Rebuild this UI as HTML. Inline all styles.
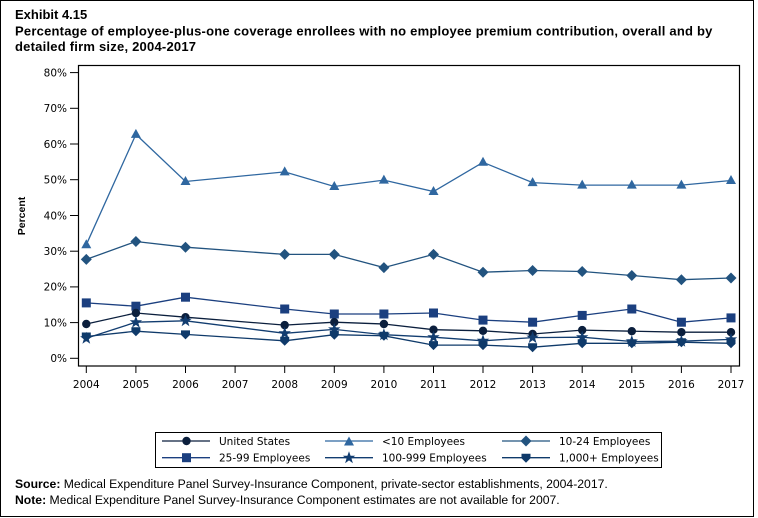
<!DOCTYPE html>
<html><head><meta charset="utf-8"><style>
html,body{margin:0;padding:0;background:#fff;}
svg{display:block;}
.t{font-family:"Liberation Sans",Arial,sans-serif;font-weight:bold;font-size:13px;fill:#000;}
.ax{font-family:"DejaVu Sans",Verdana,sans-serif;font-size:10.5px;fill:#000;}
.fn{font-family:"Liberation Sans",Arial,sans-serif;font-size:12.2px;fill:#000;}
</style></head><body>
<svg width="758" height="518" viewBox="0 0 758 518" xmlns="http://www.w3.org/2000/svg">
<defs>
<circle id="mc" r="4.2"/>
<path id="mt" d="M0,-5.5 L5,3.5 L-5,3.5 Z"/>
<path id="md" d="M0,-5.5 L5.5,0 L0,5.5 L-5.5,0 Z"/>
<rect id="ms" x="-4.5" y="-4.5" width="9" height="9"/>
<path id="mst" d="M0,-6.5 L1.6,-2 L6.2,-2 L2.5,0.9 L3.9,5.5 L0,2.7 L-3.9,5.5 L-2.5,0.9 L-6.2,-2 L-1.6,-2 Z"/>
<path id="mv" d="M-4.5,-4 L4.5,-4 L4.5,0.5 L0,5 L-4.5,0.5 Z"/>
</defs>
<rect x="0.5" y="0.5" width="753" height="516" fill="#fff" stroke="#000" stroke-width="1"/>

<text class="t" x="15" y="19">Exhibit 4.15</text>
<text class="t" x="15" y="35.5" letter-spacing="0.22">Percentage of employee-plus-one coverage enrollees with no employee premium contribution, overall and by</text>
<text class="t" x="15" y="51" letter-spacing="0.22">detailed firm size, 2004-2017</text>

<!-- plot frame -->
<rect x="78.5" y="65.5" width="661" height="300.5" fill="none" stroke="#000" stroke-width="1.2"/>

<!-- y ticks -->
<g stroke="#000" stroke-width="1">
<line x1="70" y1="72.6" x2="78.5" y2="72.6"/>
<line x1="70" y1="108.3" x2="78.5" y2="108.3"/>
<line x1="70" y1="144.0" x2="78.5" y2="144.0"/>
<line x1="70" y1="179.7" x2="78.5" y2="179.7"/>
<line x1="70" y1="215.5" x2="78.5" y2="215.5"/>
<line x1="70" y1="251.2" x2="78.5" y2="251.2"/>
<line x1="70" y1="286.9" x2="78.5" y2="286.9"/>
<line x1="70" y1="322.6" x2="78.5" y2="322.6"/>
<line x1="70" y1="358.3" x2="78.5" y2="358.3"/>
</g>
<g class="ax" text-anchor="end">
<text x="67" y="76.4">80%</text>
<text x="67" y="112.1">70%</text>
<text x="67" y="147.8">60%</text>
<text x="67" y="183.5">50%</text>
<text x="67" y="219.3">40%</text>
<text x="67" y="255.0">30%</text>
<text x="67" y="290.7">20%</text>
<text x="67" y="326.4">10%</text>
<text x="67" y="362.1">0%</text>
</g>
<text x="25" y="216" transform="rotate(-90 25 216)" text-anchor="middle" style="font-family:'Liberation Sans',Arial,sans-serif;font-weight:bold;font-size:10.5px;">Percent</text>

<!-- x ticks -->
<g stroke="#000" stroke-width="1">
<line x1="86.3" y1="366" x2="86.3" y2="373"/>
<line x1="135.9" y1="366" x2="135.9" y2="373"/>
<line x1="185.5" y1="366" x2="185.5" y2="373"/>
<line x1="235.1" y1="366" x2="235.1" y2="373"/>
<line x1="284.7" y1="366" x2="284.7" y2="373"/>
<line x1="334.3" y1="366" x2="334.3" y2="373"/>
<line x1="383.9" y1="366" x2="383.9" y2="373"/>
<line x1="433.5" y1="366" x2="433.5" y2="373"/>
<line x1="483.0" y1="366" x2="483.0" y2="373"/>
<line x1="532.6" y1="366" x2="532.6" y2="373"/>
<line x1="582.2" y1="366" x2="582.2" y2="373"/>
<line x1="631.8" y1="366" x2="631.8" y2="373"/>
<line x1="681.4" y1="366" x2="681.4" y2="373"/>
<line x1="731.0" y1="366" x2="731.0" y2="373"/>
</g>
<g class="ax" text-anchor="middle">
<text x="86.3" y="388">2004</text>
<text x="135.9" y="388">2005</text>
<text x="185.5" y="388">2006</text>
<text x="235.1" y="388">2007</text>
<text x="284.7" y="388">2008</text>
<text x="334.3" y="388">2009</text>
<text x="383.9" y="388">2010</text>
<text x="433.5" y="388">2011</text>
<text x="483.0" y="388">2012</text>
<text x="532.6" y="388">2013</text>
<text x="582.2" y="388">2014</text>
<text x="631.8" y="388">2015</text>
<text x="681.4" y="388">2016</text>
<text x="731.0" y="388">2017</text>
</g>

<!-- <10 Employees -->
<g fill="#2f67a0" stroke="#2f67a0">
<polyline fill="none" stroke-width="1.3" points="86.3,244.7 135.9,134.4 185.5,181.5 284.7,171.9 334.3,186.5 383.9,180.1 433.5,191.5 483.0,162.3 532.6,182.6 582.2,185.1 631.8,185.1 681.4,185.1 731.0,180.5"/>
<g stroke="none">
<use href="#mt" x="86.3" y="244.7"/><use href="#mt" x="135.9" y="134.4"/><use href="#mt" x="185.5" y="181.5"/><use href="#mt" x="284.7" y="171.9"/><use href="#mt" x="334.3" y="186.5"/><use href="#mt" x="383.9" y="180.1"/><use href="#mt" x="433.5" y="191.5"/><use href="#mt" x="483.0" y="162.3"/><use href="#mt" x="532.6" y="182.6"/><use href="#mt" x="582.2" y="185.1"/><use href="#mt" x="631.8" y="185.1"/><use href="#mt" x="681.4" y="185.1"/><use href="#mt" x="731.0" y="180.5"/>
</g></g>

<!-- 10-24 -->
<g fill="#22537f" stroke="#22537f">
<polyline fill="none" stroke-width="1.3" points="86.3,259.4 135.9,241.5 185.5,247.2 284.7,254.4 334.3,254.4 383.9,267.6 433.5,254.4 483.0,272.2 532.6,270.5 582.2,271.5 631.8,275.5 681.4,279.7 731.0,278.0"/>
<g stroke="none">
<use href="#md" x="86.3" y="259.4"/><use href="#md" x="135.9" y="241.5"/><use href="#md" x="185.5" y="247.2"/><use href="#md" x="284.7" y="254.4"/><use href="#md" x="334.3" y="254.4"/><use href="#md" x="383.9" y="267.6"/><use href="#md" x="433.5" y="254.4"/><use href="#md" x="483.0" y="272.2"/><use href="#md" x="532.6" y="270.5"/><use href="#md" x="582.2" y="271.5"/><use href="#md" x="631.8" y="275.5"/><use href="#md" x="681.4" y="279.7"/><use href="#md" x="731.0" y="278.0"/>
</g></g>

<!-- 25-99 -->
<g fill="#1b3f7f" stroke="#1b3f7f">
<polyline fill="none" stroke-width="1.3" points="86.3,302.9 135.9,306.2 185.5,297.2 284.7,309.0 334.3,314.0 383.9,314.0 433.5,313.0 483.0,320.1 532.6,322.2 582.2,315.4 631.8,309.0 681.4,322.2 731.0,317.9"/>
<g stroke="none">
<use href="#ms" x="86.3" y="302.9"/><use href="#ms" x="135.9" y="306.2"/><use href="#ms" x="185.5" y="297.2"/><use href="#ms" x="284.7" y="309.0"/><use href="#ms" x="334.3" y="314.0"/><use href="#ms" x="383.9" y="314.0"/><use href="#ms" x="433.5" y="313.0"/><use href="#ms" x="483.0" y="320.1"/><use href="#ms" x="532.6" y="322.2"/><use href="#ms" x="582.2" y="315.4"/><use href="#ms" x="631.8" y="309.0"/><use href="#ms" x="681.4" y="322.2"/><use href="#ms" x="731.0" y="317.9"/>
</g></g>

<!-- United States -->
<g fill="#0b1f3d" stroke="#0b1f3d">
<polyline fill="none" stroke-width="1.3" points="86.3,324.0 135.9,313.0 185.5,317.2 284.7,325.1 334.3,322.2 383.9,324.0 433.5,329.7 483.0,330.8 532.6,334.0 582.2,330.1 631.8,331.2 681.4,332.2 731.0,332.2"/>
<g stroke="none">
<use href="#mc" x="86.3" y="324.0"/><use href="#mc" x="135.9" y="313.0"/><use href="#mc" x="185.5" y="317.2"/><use href="#mc" x="284.7" y="325.1"/><use href="#mc" x="334.3" y="322.2"/><use href="#mc" x="383.9" y="324.0"/><use href="#mc" x="433.5" y="329.7"/><use href="#mc" x="483.0" y="330.8"/><use href="#mc" x="532.6" y="334.0"/><use href="#mc" x="582.2" y="330.1"/><use href="#mc" x="631.8" y="331.2"/><use href="#mc" x="681.4" y="332.2"/><use href="#mc" x="731.0" y="332.2"/>
</g></g>

<!-- 100-999 -->
<g fill="#123d70" stroke="#123d70">
<polyline fill="none" stroke-width="1.3" points="86.3,338.3 135.9,322.2 185.5,320.8 284.7,333.3 334.3,329.4 383.9,334.7 433.5,337.2 483.0,340.8 532.6,337.6 582.2,337.2 631.8,341.5 681.4,341.2 731.0,339.4"/>
<g stroke="none">
<use href="#mst" x="86.3" y="338.3"/><use href="#mst" x="135.9" y="322.2"/><use href="#mst" x="185.5" y="320.8"/><use href="#mst" x="284.7" y="333.3"/><use href="#mst" x="334.3" y="329.4"/><use href="#mst" x="383.9" y="334.7"/><use href="#mst" x="433.5" y="337.2"/><use href="#mst" x="483.0" y="340.8"/><use href="#mst" x="532.6" y="337.6"/><use href="#mst" x="582.2" y="337.2"/><use href="#mst" x="631.8" y="341.5"/><use href="#mst" x="681.4" y="341.2"/><use href="#mst" x="731.0" y="339.4"/>
</g></g>

<!-- 1,000+ -->
<g fill="#0f3a6a" stroke="#0f3a6a">
<polyline fill="none" stroke-width="1.3" points="86.3,336.5 135.9,331.2 185.5,334.4 284.7,340.8 334.3,334.7 383.9,335.8 433.5,345.1 483.0,345.1 532.6,347.2 582.2,343.3 631.8,343.3 681.4,342.2 731.0,343.3"/>
<g stroke="none">
<use href="#mv" x="86.3" y="336.5"/><use href="#mv" x="135.9" y="331.2"/><use href="#mv" x="185.5" y="334.4"/><use href="#mv" x="284.7" y="340.8"/><use href="#mv" x="334.3" y="334.7"/><use href="#mv" x="383.9" y="335.8"/><use href="#mv" x="433.5" y="345.1"/><use href="#mv" x="483.0" y="345.1"/><use href="#mv" x="532.6" y="347.2"/><use href="#mv" x="582.2" y="343.3"/><use href="#mv" x="631.8" y="343.3"/><use href="#mv" x="681.4" y="342.2"/><use href="#mv" x="731.0" y="343.3"/>
</g></g>

<!-- legend -->
<rect x="155.5" y="432.5" width="506" height="35" fill="none" stroke="#000" stroke-width="1"/>
<g stroke-width="1.3">
<line x1="162" y1="441" x2="210" y2="441" stroke="#0b1f3d"/>
<line x1="325" y1="441" x2="373" y2="441" stroke="#2f67a0"/>
<line x1="502" y1="441" x2="550" y2="441" stroke="#22537f"/>
<line x1="162" y1="457.7" x2="210" y2="457.7" stroke="#1b3f7f"/>
<line x1="325" y1="457.7" x2="373" y2="457.7" stroke="#123d70"/>
<line x1="502" y1="457.7" x2="550" y2="457.7" stroke="#0f3a6a"/>
</g>
<use href="#mc" x="186.5" y="441" fill="#0b1f3d"/>
<use href="#mt" x="349" y="442" fill="#2f67a0"/>
<use href="#md" x="526" y="441" fill="#22537f"/>
<use href="#ms" x="186.5" y="457.7" fill="#1b3f7f"/>
<use href="#mst" x="349" y="457.7" fill="#123d70"/>
<use href="#mv" x="526" y="457.7" fill="#0f3a6a"/>
<g class="ax">
<text x="219" y="445">United States</text>
<text x="382" y="445">&lt;10 Employees</text>
<text x="559" y="445">10-24 Employees</text>
<text x="219" y="461.7">25-99 Employees</text>
<text x="382" y="461.7">100-999 Employees</text>
<text x="559" y="461.7">1,000+ Employees</text>
</g>

<!-- footnotes -->
<text class="fn" x="15" y="488"><tspan font-weight="bold">Source:</tspan> Medical Expenditure Panel Survey-Insurance Component, private-sector establishments, 2004-2017.</text>
<text class="fn" x="15" y="504"><tspan font-weight="bold">Note:</tspan> Medical Expenditure Panel Survey-Insurance Component estimates are not available for 2007.</text>
</svg>
</body></html>
